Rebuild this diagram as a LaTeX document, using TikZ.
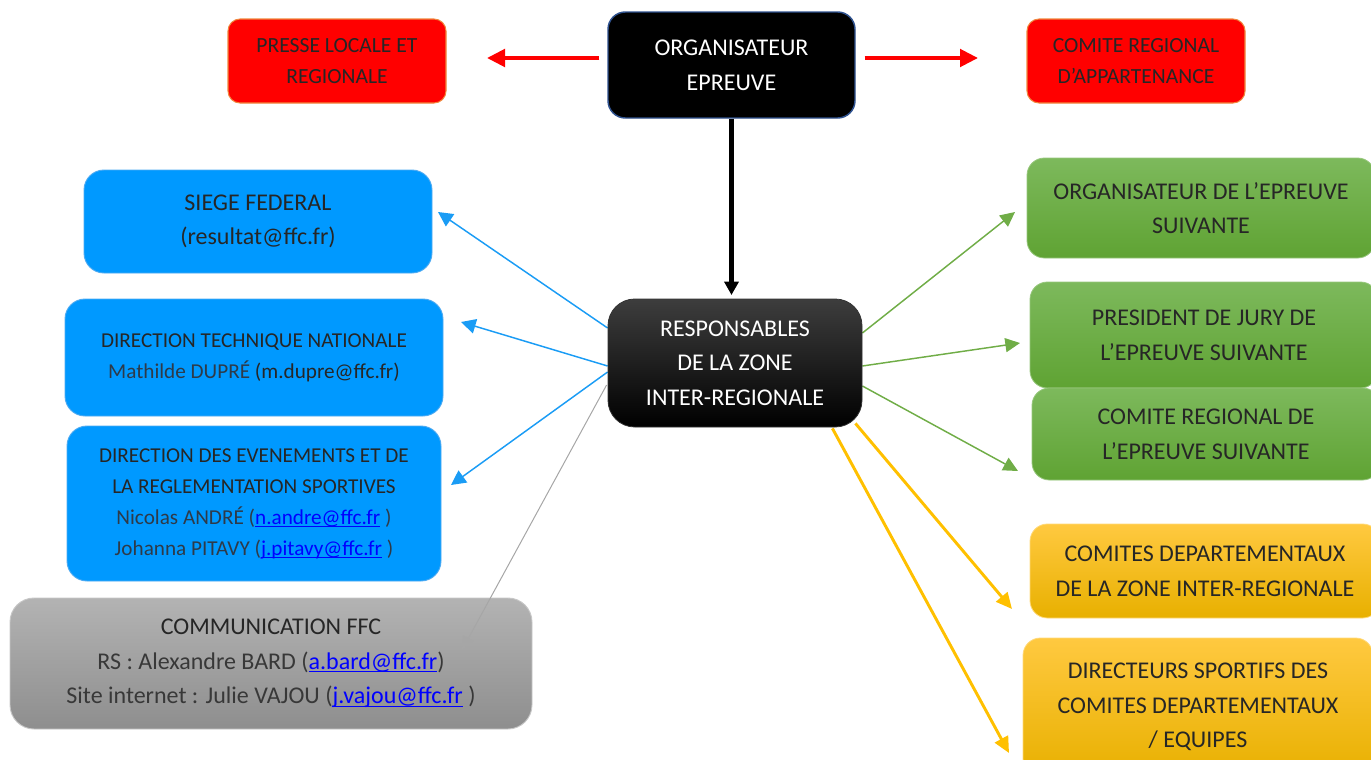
\documentclass[tikz,border=0pt]{standalone}
\usepackage{fontspec}
\setmainfont{Carlito}
\usetikzlibrary{arrows.meta,backgrounds}
\definecolor{txt}{HTML}{262626}
\definecolor{nametxt}{HTML}{2E3A48}
\definecolor{linkblue}{HTML}{0000FF}
\definecolor{boxred}{HTML}{FF0000}
\definecolor{redborder}{HTML}{F0883E}
\definecolor{orgborder}{HTML}{2F528F}
\definecolor{boxblue}{HTML}{0099FF}
\definecolor{blueborder}{HTML}{4DAAF2}
\definecolor{arrblue}{HTML}{1A9CF5}
\definecolor{greentop}{HTML}{7DB95C}
\definecolor{greenmid}{HTML}{6CAE45}
\definecolor{greenbot}{HTML}{5FA333}
\definecolor{arrgreen}{HTML}{70AD47}
\definecolor{yeltop}{HTML}{FFC940}
\definecolor{yelmid}{HTML}{FFC000}
\definecolor{yelbot}{HTML}{E8B000}
\definecolor{arryellow}{HTML}{FFC000}
\definecolor{graytop}{HTML}{B3B3B3}
\definecolor{graybot}{HTML}{8E8E8E}
\definecolor{arrgray}{HTML}{A6A6A6}
\newsavebox\mailsavebox
\newcommand\maillink[1]{\textcolor{linkblue}{\sbox\mailsavebox{#1}\rlap{\rule[-2.4pt]{\wd\mailsavebox}{0.75pt}}\usebox\mailsavebox}}
\def\pxu{0.75pt}
\begin{document}
\begin{tikzpicture}[x=0.75pt,y=-0.75pt,
  bigtext/.style={font=\fontsize{18}{26}\selectfont},
  midtext/.style={font=\fontsize{15.9}{23.25}\selectfont},
  boxbase/.style={inner sep=0pt, align=center, text=txt},
  redbox/.style={boxbase, rounded corners=9pt, fill=boxred, draw=redborder, line width=0.8pt,
    minimum width=218*\pxu, minimum height=84*\pxu, font=\fontsize{16.2}{23.25}\selectfont},
  orgbox/.style={boxbase, bigtext, rounded corners=13pt, fill=black, draw=orgborder, line width=1.1pt,
    text=white, minimum width=247*\pxu, minimum height=106*\pxu},
  respbox/.style={boxbase, bigtext, rounded corners=20pt, top color=black!76, middle color=black, bottom color=black,
    draw=black!80, line width=0.6pt, text=white, minimum width=254*\pxu, minimum height=128*\pxu},
  bluebox/.style={boxbase, rounded corners=15pt, fill=boxblue, draw=blueborder, line width=0.7pt},
  graybox/.style={boxbase, bigtext, rounded corners=18pt, top color=graytop, bottom color=graybot,
    draw=black!22, line width=0.7pt, minimum width=522*\pxu, minimum height=131*\pxu},
  greenbox/.style={boxbase, bigtext, rounded corners=13pt, top color=greentop, middle color=greenmid,
    bottom color=greenbot, draw=greentop!80!white, line width=0.6pt, minimum width=348*\pxu},
  yellowbox/.style={boxbase, bigtext, rounded corners=13pt, top color=yeltop, middle color=yelmid,
    bottom color=yelbot, draw=yeltop!70!white, line width=0.6pt, minimum width=350*\pxu},
  redarrow/.style={draw=boxred, line width=3pt, -{Triangle[length=13.5pt,width=13pt]}},
  blackarrow/.style={draw=black, line width=3.6pt, -{Triangle[length=10pt,width=10.5pt]}},
  bluearrow/.style={draw=arrblue, line width=1.1pt, -{Triangle[length=11pt,width=11pt]}},
  greenarrow/.style={draw=arrgreen, line width=1.1pt, -{Triangle[length=11pt,width=10.5pt]}},
  yellowarrow/.style={draw=arryellow, line width=2.2pt, -{Triangle[length=12pt,width=11pt]}},
  grayarrow/.style={draw=arrgray, line width=0.75pt, -{Triangle[length=10pt,width=9pt]}}
]
\useasboundingbox (0,0) rectangle (1371,760);
\clip (0,0) rectangle (1371,760);

% top row
\node[redbox] (presse) at (337,61) {PRESSE LOCALE ET\\REGIONALE};
\node[orgbox] (org) at (731.5,65) {ORGANISATEUR\\EPREUVE};
\node[redbox] (comreg) at (1136,61) {COMITE REGIONAL\\D’APPARTENANCE};

% centre
\node[respbox] (resp) at (735,363) {RESPONSABLES\\DE LA ZONE\\INTER-REGIONALE};

% left boxes
\node[bluebox, bigtext, minimum width=348*\pxu, minimum height=103*\pxu] (siege) at (258,221.5)
  {SIEGE FEDERAL\\(resultat@ffc.fr)};
\node[bluebox, midtext, minimum width=378*\pxu, minimum height=117*\pxu] (dtn) at (254,357.5)
  {DIRECTION TECHNIQUE NATIONALE\\{\color{nametxt}Mathilde DUPRÉ} (m.dupre@ffc.fr)};
\node[bluebox, midtext, minimum width=374*\pxu, minimum height=155*\pxu] (devs) at (254,503.5)
  {DIRECTION DES EVENEMENTS ET DE\\LA REGLEMENTATION SPORTIVES\\
   {\color{nametxt}Nicolas ANDRÉ (}\maillink{n.andre@ffc.fr}\ {\color{nametxt})}\\
   {\color{nametxt}Johanna PITAVY (}\maillink{j.pitavy@ffc.fr}\ {\color{nametxt})}};
\node[graybox] (comm) at (271,663.5)
  {COMMUNICATION FFC\\
   {\color{black!78}RS : Alexandre BARD (}\maillink{a.bard@ffc.fr}{\color{black!78})}\\
   {\color{black!78}Site internet : Julie VAJOU (}\maillink{j.vajou@ffc.fr}\ {\color{black!78})}};

% right boxes
\node[greenbox, minimum height=100*\pxu] (g1) at (1201,208) {ORGANISATEUR DE L’EPREUVE\\SUIVANTE};
\node[greenbox, minimum height=106*\pxu] (g2) at (1204,335) {PRESIDENT DE JURY DE\\L’EPREUVE SUIVANTE};
\node[greenbox, minimum height=92*\pxu] (g3) at (1206,434) {COMITE REGIONAL DE\\L’EPREUVE SUIVANTE};
\node[yellowbox, minimum height=94*\pxu] (y1) at (1205,571) {COMITES DEPARTEMENTAUX\\DE LA ZONE INTER-REGIONALE};
\node[yellowbox, minimum height=138*\pxu] (y2) at (1198,707) {DIRECTEURS SPORTIFS DES\\COMITES DEPARTEMENTAUX\\/ EQUIPES};

% free arrow ends
\coordinate (presseEnd) at (487,58);
\coordinate (comregEnd) at (978,58);
\coordinate (respTop) at (731.5,295);
\coordinate (siegeEnd) at (438,212);
\coordinate (dtnEnd) at (461,322);
\coordinate (devsEnd) at (451,485);
\coordinate (commEnd) at (462,650);
\coordinate (g1End) at (1015,212);
\coordinate (g2End) at (1020,343);
\coordinate (g3End) at (1018,471);
\coordinate (y1End) at (1012,609);
\coordinate (y2End) at (1009,753);

\begin{pgfonlayer}{background}
\draw[redarrow] ([xshift=-8*\pxu, yshift=7*\pxu]org.west) -- (presseEnd);
\draw[redarrow] ([xshift=9*\pxu, yshift=7*\pxu]org.east) -- (comregEnd);
\draw[blackarrow] (org.south) -- (respTop);
\draw[bluearrow] ([yshift=35*\pxu]resp.west) -- (siegeEnd);
\draw[bluearrow] ([yshift=-3*\pxu]resp.west) -- (dtnEnd);
\draw[bluearrow] ([yshift=-9*\pxu]resp.west) -- (devsEnd);
\draw[greenarrow] ([yshift=30*\pxu]resp.east) -- (g1End);
\draw[greenarrow] ([yshift=-3*\pxu]resp.east) -- (g2End);
\draw[greenarrow] ([yshift=-23*\pxu]resp.east) -- (g3End);
\draw[yellowarrow] ([xshift=-7*\pxu, yshift=4*\pxu]resp.south east) -- (y1End);
\draw[yellowarrow] ([xshift=-30*\pxu, yshift=-1*\pxu]resp.south east) -- (y2End);
\end{pgfonlayer}
\draw[grayarrow] ([xshift=-1*\pxu, yshift=-22*\pxu]resp.west) -- (commEnd);
\end{tikzpicture}
\end{document}
